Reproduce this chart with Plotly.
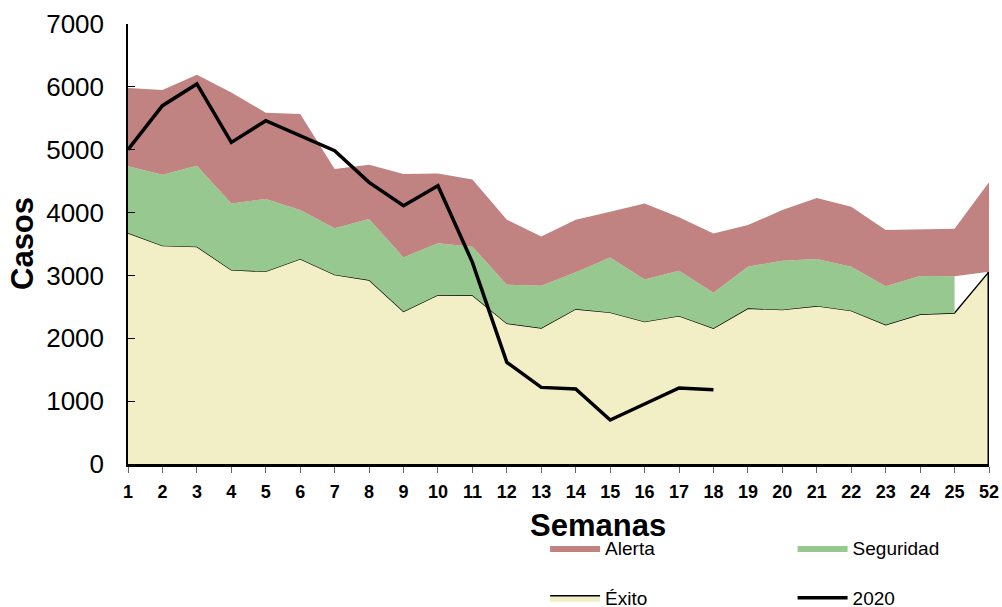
import plotly.graph_objects as go

# Semanas epidemiológicas
semanas = [str(i) for i in range(1, 26)] + ["52"]

# Valores acumulados (límites superiores de cada zona)
exito = [3675, 3473, 3457, 3087, 3064, 3262, 3012, 2927, 2428, 2689, 2683, 2237, 2164,
         2466, 2412, 2264, 2355, 2158, 2476, 2455, 2514, 2439, 2216, 2381, 2402, 3060]
seguridad = [4735, 4603, 4746, 4146, 4216, 4041, 3749, 3898, 3287, 3510, 3457, 2853, 2837,
             3049, 3287, 2937, 3075, 2726, 3139, 3235, 3262, 3139, 2826, 2991, 2985]
alerta = [5982, 5950, 6194, 5912, 5589, 5569, 4693, 4762, 4614, 4620, 4528, 3887, 3621,
          3887, 4014, 4146, 3924, 3669, 3802, 4041, 4232, 4094, 3723, 3733, 3744, 4481]
casos_2020 = [5000, 5701, 6046, 5117, 5462, 5224, 4985, 4481, 4110, 4428, 3208, 1617, 1219,
              1193, 700, 955, 1209, 1182]

rojo = "#C08381"
verde = "#97C88F"
beige = "#F2EFC6"

sem_seg = semanas[:len(seguridad)]
base_alerta = seguridad + exito[len(seguridad):]

fig = go.Figure()

# Éxito
fig.add_trace(go.Scatter(
    x=semanas, y=exito, fill="tozeroy", fillcolor=beige, mode="lines",
    line=dict(color="black", width=1.3), name="Éxito", legend="legend3",
    hoverinfo="skip"))
# borde derecho del área de Éxito
fig.add_trace(go.Scatter(x=[semanas[-1], semanas[-1]], y=[exito[-1], 0], mode="lines",
                         line=dict(color="black", width=3), showlegend=False, hoverinfo="skip"))

# Seguridad (entre Éxito y su límite)
fig.add_trace(go.Scatter(x=sem_seg, y=exito[:len(seguridad)], mode="lines",
                         line=dict(width=0, color=beige), showlegend=False, hoverinfo="skip"))
fig.add_trace(go.Scatter(x=sem_seg, y=seguridad, mode="lines", fill="tonexty",
                         fillcolor=verde, line=dict(width=0, color=verde),
                         name="Seguridad", legend="legend2"))

# Alerta (entre Seguridad y su límite)
fig.add_trace(go.Scatter(x=semanas, y=base_alerta, mode="lines",
                         line=dict(width=0, color=rojo), showlegend=False, hoverinfo="skip"))
fig.add_trace(go.Scatter(x=semanas, y=alerta, mode="lines", fill="tonexty",
                         fillcolor=rojo, line=dict(width=0, color=rojo),
                         name="Alerta", legend="legend"))

# Casos 2020
fig.add_trace(go.Scatter(x=semanas[:len(casos_2020)], y=casos_2020, mode="lines",
                         line=dict(color="black", width=3.5), name="2020", legend="legend4"))


def leyenda(x, y):
    return dict(xref="container", yref="container", x=x, y=y, xanchor="left",
                yanchor="middle", font=dict(size=19), itemwidth=50,
                bgcolor="rgba(0,0,0,0)")


fig.update_layout(
    width=1002, height=607,
    margin=dict(l=128, r=13, t=24, b=143, autoexpand=False),
    plot_bgcolor="white", paper_bgcolor="white",
    font=dict(family="Arial", color="black"),
    xaxis=dict(type="category", categoryorder="array", categoryarray=semanas,
               range=[0, len(semanas) - 1], showline=True, linecolor="black", linewidth=2.5,
               ticks="outside", ticklen=6, tickcolor="#666", showgrid=False,
               ticklabelstandoff=4, automargin=False,
               tickfont=dict(size=18, weight="bold")),
    yaxis=dict(range=[0, 7000], dtick=1000, showline=True, linecolor="black", linewidth=1.5,
               ticks="inside", ticklen=7, tickcolor="black", showgrid=False, zeroline=False,
               ticklabelstandoff=17, automargin=False,
               tickfont=dict(size=26)),
    legend=leyenda(0.544, 0.097),
    legend2=leyenda(0.791, 0.097),
    legend3=leyenda(0.544, 0.015),
    legend4=leyenda(0.791, 0.015),
    annotations=[
        dict(text="Casos", x=0, xref="paper", xanchor="center", xshift=-106,
             y=0.5, yref="paper", showarrow=False, textangle=-90,
             font=dict(size=31, weight="bold")),
        dict(text="Semanas", x=0.546, xref="paper", y=-0.139, yref="paper",
             xanchor="center", yanchor="middle", showarrow=False,
             font=dict(size=31, weight="bold")),
    ],
)

fig.write_html("out.html", config={"displayModeBar": False},
               post_script="document.body.style.margin='0';")
